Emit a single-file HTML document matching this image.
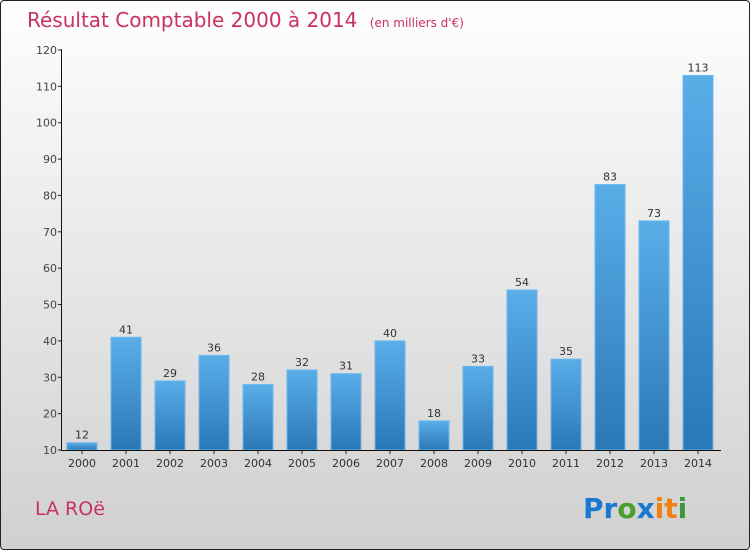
<!DOCTYPE html>
<html><head><meta charset="utf-8"><style>
body{margin:0}
#c{width:748px;height:548px;border:1px solid #222;border-radius:4px;background:linear-gradient(#fefefe,#d0d0d0);position:relative;overflow:hidden;font-family:"DejaVu Sans","Liberation Sans",sans-serif}
</style></head><body>
<div id="c">
<svg width="748" height="548">
<defs><linearGradient id="g" x1="0" y1="0" x2="0" y2="1"><stop offset="0" stop-color="#5aaee8"/><stop offset="1" stop-color="#2a78b6"/></linearGradient></defs>
<text x="26" y="26" font-size="20" fill="#c8325e">Résultat Comptable 2000 à 2014 <tspan font-size="12" dx="6">(en milliers d'€)</tspan></text>
<text x="34" y="514" font-size="19" fill="#c8325e">LA ROë</text>
<text x="582" y="517" font-size="28" font-weight="bold"><tspan fill="#1a78d2">Pr</tspan><tspan fill="#4aa02c">o</tspan><tspan fill="#1a78d2">x</tspan><tspan fill="#f08010">i</tspan><tspan fill="#f08010">t</tspan><tspan fill="#3a9a3a">i</tspan></text>
<g id="plot"></g>
</svg></div>
<script>
const categories=["2000","2001","2002","2003","2004","2005","2006","2007","2008","2009","2010","2011","2012","2013","2014"];
const values=[12,41,29,36,28,32,31,40,18,33,54,35,83,73,113];
const yTicks=[10,20,30,40,50,60,70,80,90,100,110,120];
const ns="http://www.w3.org/2000/svg";
const g=document.getElementById('plot');
const y=v=>449-(v-10)*400/110;
const x=i=>81+i*44;
function el(t,a){const e=document.createElementNS(ns,t);for(const k in a)e.setAttribute(k,a[k]);g.appendChild(e);return e;}
yTicks.forEach(t=>{
 const l=el('line',{x1:57,x2:61,y1:y(t),y2:y(t),stroke:'#222'});
 
 
 const tx=el('text',{x:56,y:y(t)+4,'text-anchor':'end','font-size':11,fill:'#444'});
 tx.textContent=t;
 
 
});
values.forEach((v,i)=>{
 const r=el('rect',{x:x(i)-15,y:y(v),width:30,height:449-y(v),fill:'url(#g)',stroke:'#6ab8ee','stroke-width':1});
 
 
 const t=el('text',{x:x(i),y:y(v)-4,'text-anchor':'middle','font-size':11,fill:'#333'});
 t.textContent=v;
 
 
 const c=el('text',{x:x(i),y:466,'text-anchor':'middle','font-size':11,fill:'#333'});
 c.textContent=categories[i];
 
 
 const tk=el('line',{x1:x(i),x2:x(i),y1:449,y2:453,stroke:'#222'});
 
 
});
const ya=el('line',{x1:60.5,x2:60.5,y1:48,y2:449.5,stroke:'#111'});


const xa=el('line',{x1:60,x2:720,y1:449.5,y2:449.5,stroke:'#111'});


</script>
</body></html>
